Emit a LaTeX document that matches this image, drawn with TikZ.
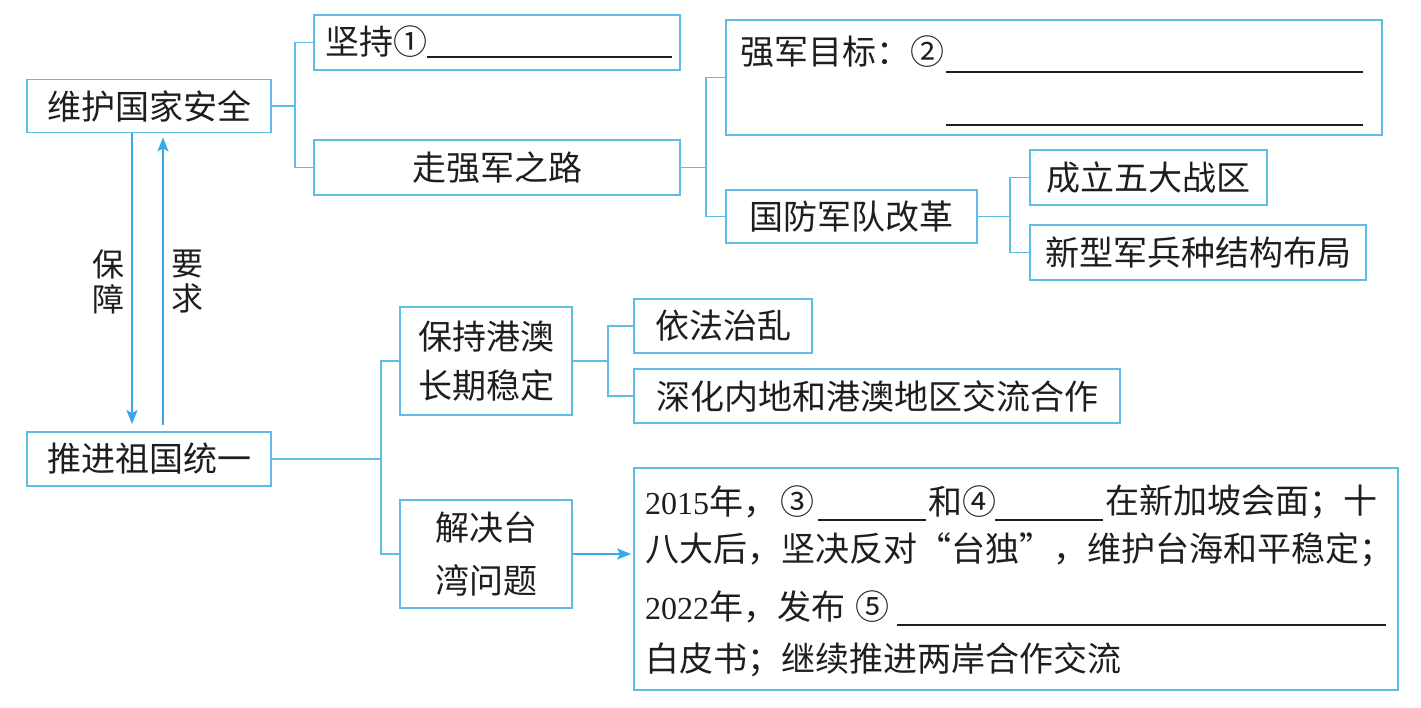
\documentclass[tikz,border=0pt]{standalone}
\usepackage{fontspec}
\setmainfont{Noto Sans CJK SC}
\newfontfamily\lat{Liberation Serif}
\usetikzlibrary{arrows.meta}
\definecolor{bl}{RGB}{95,188,228}
\definecolor{ar}{RGB}{55,168,232}
\definecolor{txt}{RGB}{30,30,30}
\tikzset{
  box/.style={draw=bl, line width=1.8pt, inner sep=0pt, text=txt, align=center,
    font=\fontsize{34}{49}\selectfont},
  lbl/.style={inner sep=0pt, text=txt, anchor=west, font=\fontsize{34}{49}\selectfont},
  conn/.style={draw=bl, line width=1.8pt},
  arr/.style={draw=ar, line width=1.8pt, -{Stealth[length=14pt,width=11pt,inset=3pt]}},
  blank/.style={draw=txt, line width=1.4pt}
}
\begin{document}
\begin{tikzpicture}[x=1pt,y=-1pt]
\useasboundingbox (0,0) rectangle (1421,707);
% boxes
\node[box, minimum width=244pt, minimum height=53pt] (wh) at (149,106) {维护国家安全};
\node[box, minimum width=366pt, minimum height=55pt] (jc) at (497,42.5) {};
\node[box, minimum width=366pt, minimum height=55pt] (zq) at (497,167.5) {走强军之路};
\node[box, minimum width=656pt, minimum height=115pt] (qj) at (1054,77.5) {};
\node[box, minimum width=251pt, minimum height=53pt] (gf) at (851.5,216.5) {国防军队改革};
\node[box, minimum width=237pt, minimum height=55pt] (cl) at (1148.5,177.5) {成立五大战区};
\node[box, minimum width=336pt, minimum height=55pt] (xx) at (1198,252.5) {新型军兵种结构布局};
\node[box, minimum width=244pt, minimum height=54pt] (tj) at (149,459) {推进祖国统一};
\node[box, minimum width=172pt, minimum height=108pt] (bc) at (486,361) {保持港澳\\长期稳定};
\node[box, minimum width=178pt, minimum height=54pt] (yf) at (723,326) {依法治乱};
\node[box, minimum width=486pt, minimum height=54pt] (sh) at (877,396) {深化内地和港澳地区交流合作};
\node[box, minimum width=172pt, minimum height=108pt] (jj) at (486,554) {解决台\\[4pt]湾问题};
\node[box, minimum width=764pt, minimum height=222pt] (tw) at (1016,579) {};
% texts inside left-aligned boxes
\node[lbl] (t1) at (325,42) {坚持①};
\draw[blank] (427,57) -- (672,57);
\node[lbl] (t2) at (740,52) {强军目标：②};
\draw[blank] (946,72) -- (1363,72);
\draw[blank] (946,125) -- (1363,125);
\node[lbl] (l1a) at (645,502) {{\lat\fontsize{32}{40}\selectfont 2015}年，\hspace{3pt}③};
\draw[blank] (818,520) -- (926,520);
\node[lbl] (l1b) at (928,502) {和④};
\draw[blank] (995,520) -- (1103,520);
\node[lbl] (l1c) at (1105,502) {在新加坡会面；十};
\node[lbl] (l2) at (645,550) {八大后，坚决反对“台独”，维护台海和平稳定；};
\node[lbl] (l3) at (645,607) {{\lat\fontsize{32}{40}\selectfont 2022}年，发布\hspace{10pt}⑤};
\draw[blank] (897,625) -- (1386,625);
\node[lbl] (l4) at (645,660) {白皮书；继续推进两岸合作交流};
% side labels
\node[lbl, anchor=center, align=center, font=\fontsize{32}{35}\selectfont] (bz) at (108,282) {保\\障};
\node[lbl, anchor=center, align=center, font=\fontsize{32}{35}\selectfont] (yq) at (187,282) {要\\求};
% connectors
\coordinate (b1) at (295,106);
\draw[conn] (wh.east) -- (b1) |- (jc.west);
\draw[conn] (b1) |- (zq.west);
\coordinate (b2) at (706,167.5);
\draw[conn] (zq.east) -- (b2) |- (qj.west);
\draw[conn] (b2) |- (gf.west);
\coordinate (b3) at (1010,216.5);
\draw[conn] (gf.east) -- (b3) |- (cl.west);
\draw[conn] (b3) |- (xx.west);
\coordinate (b4) at (381,459);
\draw[conn] (tj.east) -- (b4) |- (bc.west);
\draw[conn] (b4) |- (jj.west);
\coordinate (b5) at (608,361);
\draw[conn] (bc.east) -- (b5) |- (yf.west);
\draw[conn] (b5) |- (sh.west);
% arrows
\draw[arr, shorten >=7pt] ([xshift=-17pt]wh.south) -- ([xshift=-17pt]tj.north);
\draw[arr, shorten >=4pt, shorten <=6pt] ([xshift=14pt]tj.north) -- ([xshift=14pt]wh.south);
\draw[arr, shorten >=2pt] (jj.east) -- (jj.east -| tw.west);
\end{tikzpicture}
\end{document}
